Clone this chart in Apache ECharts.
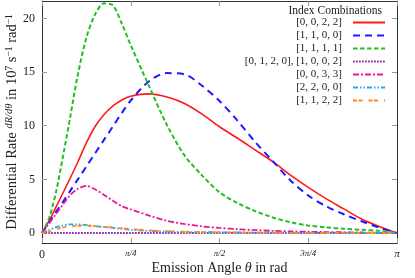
<!DOCTYPE html>
<html><head><meta charset="utf-8">
<script src="https://cdn.jsdelivr.net/npm/echarts@6/dist/echarts.min.js"></script>
<style>html,body{margin:0;padding:0;background:#fff}#c{width:415px;height:278px}</style>
</head><body><div id="c"></div>
<script>
// theta in units of pi
const thetaPi = [0,0.02,0.04,0.06,0.08,0.1,0.125,0.15,0.175,0.2,0.225,0.25,0.3,0.35,0.4,0.45,0.5,0.55,0.6,0.65,0.7,0.75,0.8,0.85,0.9,0.95,1];
const names = ['[0, 0, 2, 2]','[1, 1, 0, 0]','[1, 1, 1, 1]','[0, 1, 2, 0], [1, 0, 0, 2]','[0, 0, 3, 3]','[2, 2, 0, 0]','[1, 1, 2, 2]'];
const red     = [0,1.15,2.45,3.8,5.15,6.55,8.4,9.95,11.05,11.85,12.4,12.75,12.97,12.7,12.1,11.1,9.9,8.85,7.75,6.65,5.4,4.25,3.2,2.25,1.3,0.6,0];
const blue    = [0,1.0,2.0,2.95,3.95,4.95,6.2,7.45,8.7,9.95,11.2,12.35,14.1,14.9,14.8,13.75,12.3,10.5,8.5,6.7,4.9,3.5,2.5,1.75,1.1,0.5,0];
const green   = [0,1.4,3.9,7.3,10.9,14.6,18.2,20.4,21.4,21.2,19.5,17.5,13.8,10.2,7.3,5.4,3.8,2.8,2.05,1.45,1.0,0.7,0.52,0.4,0.3,0.2,0];
const purple  = [0,0,0,0,0,0,0,0,0,0,0,0,0,0,0,0,0,0,0,0,0,0,0,0,0,0,0];
const magenta = [0,0.9,1.8,2.7,3.55,4.1,4.4,4.05,3.55,3.0,2.5,2.2,1.65,1.15,0.85,0.62,0.47,0.36,0.27,0.2,0.15,0.12,0.09,0.07,0.05,0.02,0];
const cyan    = [0,0.3,0.55,0.72,0.8,0.8,0.74,0.64,0.55,0.47,0.38,0.3,0.2,0.14,0.1,0.08,0.06,0.05,0.04,0.03,0.02,0.02,0.01,0.01,0,0,0];
const orange  = [0,0.12,0.35,0.52,0.62,0.67,0.68,0.64,0.58,0.52,0.45,0.38,0.25,0.17,0.12,0.09,0.07,0.05,0.04,0.03,0.02,0.02,0.01,0.01,0,0,0];
const yTicks = [0,5,10,15,20];
const xTicks = [0, Math.PI/4, Math.PI/2, 3*Math.PI/4, Math.PI];
const xTickLabels = ['{n|0}','{f|π/4}','{f|π/2}','{f|3π/4}','{p|π}'];

const values = [red, blue, green, purple, magenta, cyan, orange];
const colors = ['#ff1a1a','#1a1aff','#22c022','#9a30b0','#e8189a','#1aaee8','#ff8c1a'];
const dashes = ['solid',[7,5],[4.5,2.5],[1.8,1.2],[6,2,2,2],[5,2,1.5,2,1.5,2],[4,1.5,4,6]];
const widths = [1.6,2,2,2.2,1.8,1.8,1.8];
const FONT = 'Liberation Serif';

const series = values.map((arr, i) => ({
  name: names[i], type: 'line', symbol: 'circle', showSymbol: false, smooth: 0.3,
  data: arr.map((v, j) => [thetaPi[j]*Math.PI, v]),
  lineStyle: {color: colors[i], width: widths[i], type: dashes[i]},
  itemStyle: {color: colors[i]}, z: 2 + i
}));

const chart = echarts.init(document.getElementById('c'), null, {renderer: 'canvas'});
const axisLineStyle = {color: '#333', width: 1};
const tickStyle = {color: '#999', width: 1};
chart.setOption({
  animation: false,
  textStyle: {fontFamily: FONT},
  grid: {left: 42, right: 18, top: 1, bottom: 35, show: false, containLabel: false, outerBoundsMode: 'none'},
  xAxis: [{
    type: 'value', min: 0, max: Math.PI, position: 'bottom',
    axisLine: {show: true, lineStyle: axisLineStyle, onZero: false},
    axisTick: {show: true, inside: true, length: 5, lineStyle: tickStyle, customValues: xTicks},
    axisLabel: {show: true, customValues: xTicks, margin: 6, color: '#222', fontFamily: FONT,
      formatter: (v) => { const k = Math.round(v/(Math.PI/4)); return xTickLabels[k]; },
      rich: {n: {fontSize: 12, fontFamily: FONT, color: '#222'},
             f: {fontSize: 9, fontFamily: FONT, fontStyle: 'italic', color: '#222'},
             p: {fontSize: 11, fontFamily: FONT, fontStyle: 'italic', color: '#222'}}},
    splitLine: {show: false},
    name: 'Emission Angle {i|θ} in rad', nameLocation: 'middle', nameGap: 18, nameMoveOverlap: false,
    nameTextStyle: {fontSize: 14, fontFamily: FONT, color: '#222', verticalAlign: 'top',
      rich: {i: {fontSize: 14, fontStyle: 'italic', fontFamily: FONT, color: '#222'}}}
  }, {
    type: 'value', min: 0, max: Math.PI, position: 'top',
    axisLine: {show: true, lineStyle: axisLineStyle, onZero: false},
    axisTick: {show: true, inside: true, length: 5, lineStyle: tickStyle, customValues: xTicks},
    axisLabel: {show: false}, splitLine: {show: false}
  }],
  yAxis: [{
    type: 'value', min: -0.93, max: 21.62, position: 'left',
    axisLine: {show: true, lineStyle: axisLineStyle, onZero: false},
    axisTick: {show: true, inside: true, length: 5, lineStyle: tickStyle, customValues: yTicks},
    axisLabel: {show: true, customValues: yTicks, margin: 7, fontSize: 12, color: '#222', fontFamily: FONT},
    splitLine: {show: false},
    name: 'Differential Rate {f|dR/dθ} in 10{s|7} s{s|−1} rad{s|−1}', nameLocation: 'middle', nameGap: 22, nameRotate: 90, nameMoveOverlap: false,
    nameTextStyle: {fontSize: 14.5, fontFamily: FONT, color: '#222', lineHeight: 16, verticalAlign: 'bottom',
      rich: {f: {fontSize: 10.5, fontStyle: 'italic', fontFamily: FONT, color: '#222', verticalAlign: 'top', lineHeight: 16},
             s: {fontSize: 9.5, fontFamily: FONT, color: '#222', verticalAlign: 'top', lineHeight: 16}}}
  }, {
    type: 'value', min: -0.93, max: 21.62, position: 'right',
    axisLine: {show: true, lineStyle: axisLineStyle, onZero: false},
    axisTick: {show: true, inside: true, length: 5, lineStyle: tickStyle, customValues: yTicks},
    axisLabel: {show: false}, splitLine: {show: false}
  }],
  legend: {
    orient: 'vertical', right: 24, top: 12, align: 'right',
    itemWidth: 32, itemHeight: 10, itemGap: 2, padding: 5,
    data: names,
    itemStyle: {opacity: 0},
    textStyle: {fontFamily: FONT, fontSize: 11, color: '#222', lineHeight: 10, padding: [0, 6, 0, 0]}
  },
  graphic: [{
    type: 'text', right: 33, top: 5,
    style: {text: 'Index Combinations', fontFamily: FONT, fontSize: 11.5, fill: '#222'}
  }],
  series: series
});
</script></body></html>
